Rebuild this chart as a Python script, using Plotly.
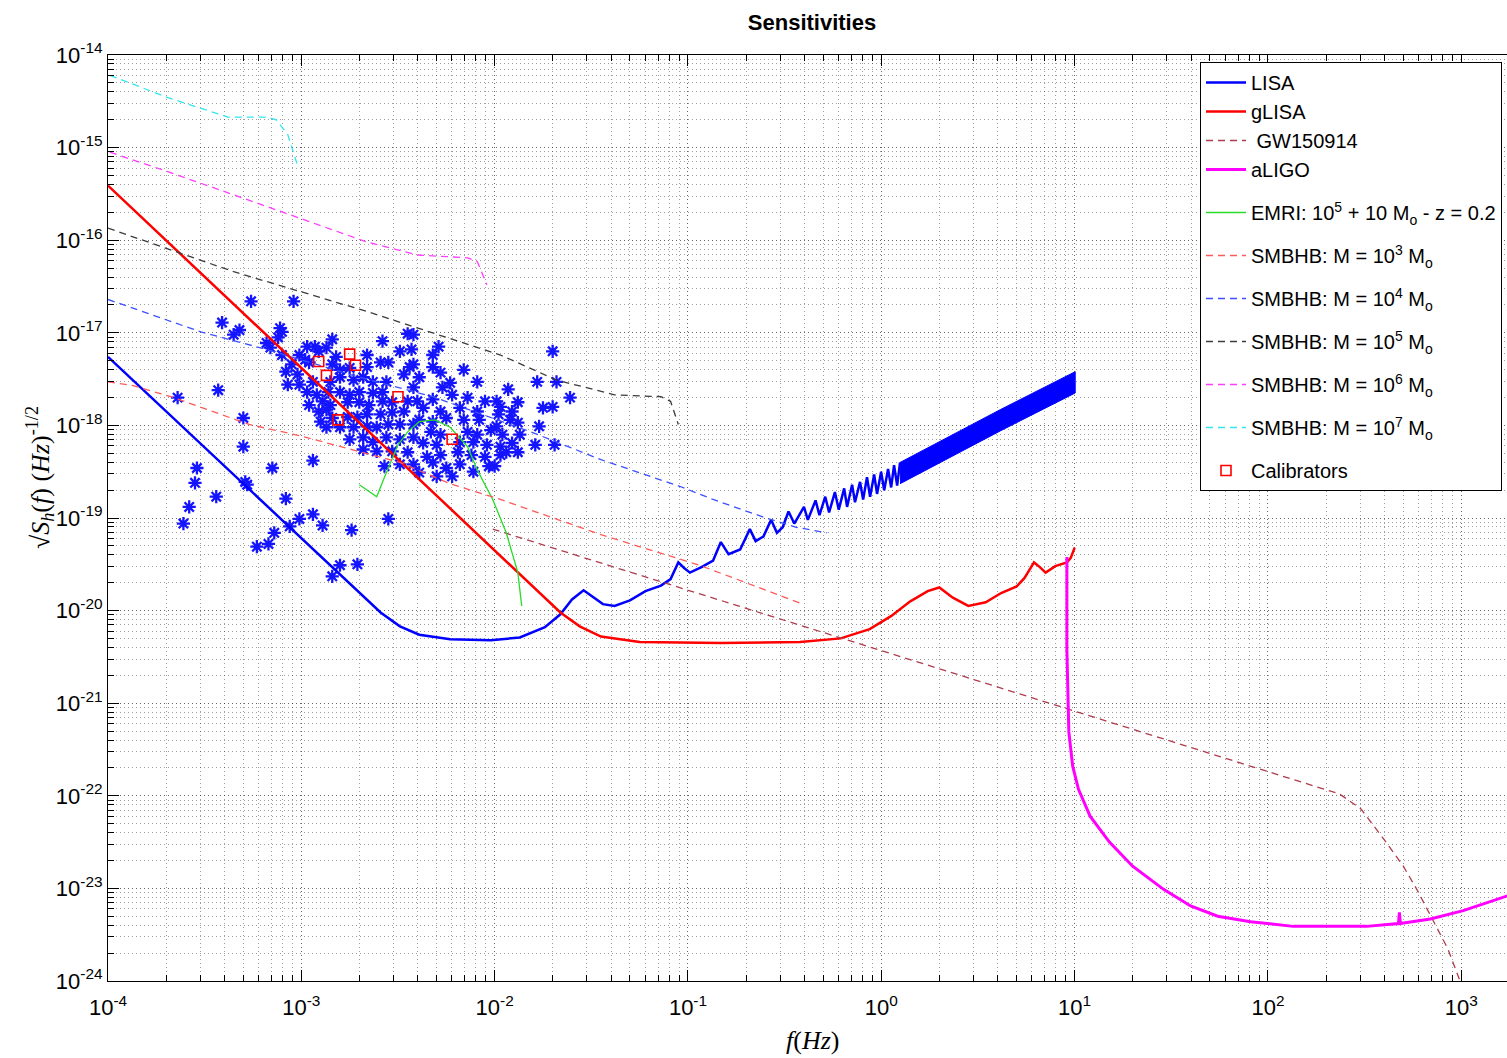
import numpy as np
import plotly.graph_objects as go

# ---------------- data: log10 f [Hz]  and  log10 sqrt(Sh) [Hz^-1/2] ----------------
lisa_lf = [-4.00, -3.27, -2.59, -2.49, -2.39, -2.23, -2.02, -1.87, -1.74, -1.66, -1.60, -1.54,
           -1.50, -1.44, -1.38, -1.30, -1.22, -1.14, -1.09, -1.05, -1.02, -0.99, -0.93, -0.87,
           -0.83, -0.79, -0.73, -0.68, -0.65, -0.61, -0.57, -0.54, -0.51, -0.48, -0.45, -0.40,
           -0.38, -0.34, -0.32, -0.29, -0.27, -0.24, -0.22, -0.192, -0.177, -0.151, -0.136,
           -0.110, -0.094, -0.074, -0.058, -0.037, -0.022, -0.001, 0.015, 0.035, 0.051, 0.066,
           0.082, 0.097]
lisa_lh = [-17.26, -18.69, -20.02, -20.17, -20.26, -20.31, -20.32, -20.29, -20.18, -20.04, -19.88,
           -19.78, -19.84, -19.93, -19.95, -19.89, -19.79, -19.73, -19.66, -19.48, -19.54, -19.59,
           -19.53, -19.46, -19.26, -19.39, -19.34, -19.12, -19.25, -19.20, -19.02, -19.16, -19.10,
           -18.93, -19.06, -18.88, -19.02, -18.81, -18.97, -18.77, -18.94, -18.72, -18.91, -18.68,
           -18.88, -18.64, -18.83, -18.61, -18.80, -18.56, -18.77, -18.53, -18.74, -18.50, -18.70,
           -18.47, -18.67, -18.43, -18.65, -18.40]
# dense oscillating part of LISA (upper / lower envelope)
lisa_band_lf = [0.097, 0.615, 1.003]
lisa_band_up = [-18.40, -17.83, -17.42]
lisa_band_lo = [-18.63, -18.06, -17.65]

glisa_lf = [-4.00, -1.66, -1.56, -1.45, -1.25, -0.83, -0.42, -0.21, -0.06, 0.05, 0.15, 0.24, 0.30,
            0.37, 0.45, 0.54, 0.62, 0.70, 0.74, 0.79, 0.82, 0.85, 0.90, 0.96, 0.98, 1.00]
glisa_lh = [-15.41, -20.02, -20.17, -20.28, -20.34, -20.35, -20.34, -20.30, -20.20, -20.06, -19.90,
            -19.79, -19.75, -19.86, -19.95, -19.91, -19.81, -19.74, -19.65, -19.48, -19.53, -19.59,
            -19.52, -19.48, -19.43, -19.32]

gw_lf = [-2.01, 2.37, 2.48, 2.60, 2.70, 2.77, 2.85, 2.93, 2.99]
gw_lh = [-19.12, -21.98, -22.14, -22.47, -22.76, -23.01, -23.33, -23.65, -23.98]

aligo_lf = [0.96, 0.96, 0.97, 0.99, 1.02, 1.08, 1.18, 1.30, 1.46, 1.60, 1.74, 1.91, 2.13, 2.34,
            2.51, 2.675, 2.68, 2.685, 2.84, 3.01, 3.24]
aligo_lh = [-19.42, -20.42, -21.31, -21.68, -21.93, -22.22, -22.50, -22.76, -23.01, -23.19, -23.30,
            -23.36, -23.41, -23.41, -23.41, -23.38, -23.26, -23.38, -23.33, -23.24, -23.08]

emri_lf = [-2.70, -2.61, -2.57, -2.50, -2.45, -2.39, -2.31, -2.23, -2.14, -2.09, -2.01, -1.94,
           -1.88, -1.86]
emri_lh = [-18.64, -18.77, -18.56, -18.21, -18.07, -17.96, -17.94, -18.02, -18.23, -18.48, -18.80,
           -19.16, -19.59, -19.95]

s3_lf = [-4.00, -3.87, -3.66, -3.27, -3.01, -2.49, -2.23, -1.97, -1.45, -0.94, -0.42]
s3_lh = [-17.53, -17.57, -17.70, -17.99, -18.11, -18.40, -18.63, -18.80, -19.18, -19.51, -19.92]
s4_lf = [-4.00, -3.52, -3.18, -2.70, -2.32, -1.80, -1.45, -1.04, -0.87, -0.61, -0.44, -0.28]
s4_lh = [-16.64, -16.99, -17.18, -17.48, -17.69, -18.08, -18.37, -18.66, -18.80, -18.99, -19.10,
         -19.16]
s5_lf = [-4.00, -3.35, -2.66, -1.97, -1.68, -1.38, -1.14, -1.09, -1.05]
s5_lh = [-15.87, -16.34, -16.77, -17.24, -17.51, -17.67, -17.69, -17.74, -17.99]
s6_lf = [-3.99, -3.69, -3.35, -3.01, -2.66, -2.40, -2.14, -2.09, -2.04]
s6_lh = [-15.05, -15.26, -15.51, -15.76, -16.02, -16.16, -16.19, -16.23, -16.48]
s7_lf = [-3.99, -3.69, -3.38, -3.18, -3.13, -3.07, -3.02]
s7_lh = [-14.22, -14.46, -14.67, -14.67, -14.70, -14.86, -15.19]

cal_lf = [-2.91, -2.87, -2.75, -2.72, -2.50, -2.81, -2.22]
cal_lh = [-17.31, -17.46, -17.23, -17.35, -17.69, -17.94, -18.15]

stars_a_lf = [-3.26, -3.04, -3.41, -3.35, -3.32, -3.11, -3.10, -3.12, -3.18, -2.84,
              -2.58, -2.45, -2.42, -3.16, -2.97, -2.93, -2.91, -3.01, -2.98, -2.87,
              -2.82, -2.66, -2.49, -2.43, -3.10, -3.05, -3.08, -2.96, -2.84, -2.80,
              -2.75, -2.66, -2.59, -2.55, -3.02, -3.07, -3.01, -2.94, -2.85, -2.80,
              -2.73, -2.68, -2.63, -2.56, -2.47, -2.42, -3.43, -2.97, -2.92, -2.86,
              -2.80, -2.75, -2.70, -2.63, -2.58, -2.42, -2.96, -2.89, -2.85, -2.76,
              -2.70, -2.65, -2.58, -2.53, -2.45, -2.40, -2.91, -2.87, -2.90, -2.84,
              -2.76, -2.71, -2.66, -2.59, -2.53, -2.47, -3.30, -2.87, -2.80, -2.73,
              -2.66, -2.61, -2.55, -2.49, -2.42, -2.75, -2.68, -2.63, -2.56, -2.49,
              -2.42, -3.30, -2.68, -2.61, -2.53, -2.45, -2.94, -2.57, -2.49, -3.15, -2.42]
stars_a_lh = [-16.66, -16.66, -16.89, -17.02, -16.97, -16.95, -16.99, -17.05, -17.11, -17.07,
              -17.09, -17.01, -17.02, -17.16, -17.15, -17.15, -17.20, -17.24, -17.29, -17.16,
              -17.26, -17.24, -17.20, -17.18, -17.24, -17.34, -17.42, -17.32, -17.34, -17.40,
              -17.38, -17.37, -17.32, -17.32, -17.45, -17.56, -17.56, -17.53, -17.53, -17.48,
              -17.51, -17.48, -17.53, -17.53, -17.45, -17.34, -17.62, -17.64, -17.67, -17.64,
              -17.64, -17.67, -17.64, -17.65, -17.64, -17.59, -17.78, -17.74, -17.78, -17.75,
              -17.75, -17.78, -17.74, -17.75, -17.74, -17.74, -17.85, -17.83, -17.96, -17.92,
              -17.91, -17.91, -17.88, -17.88, -17.86, -17.85, -17.92, -18.02, -18.02, -18.02,
              -18.01, -18.02, -17.99, -17.99, -17.99, -18.15, -18.13, -18.18, -18.13, -18.15,
              -18.13, -18.23, -18.26, -18.28, -18.28, -18.29, -18.38, -18.44, -18.42, -18.46, -18.42]
stars_b_lf = [-2.29, -2.32, -1.70, -2.32, -2.28, -2.16, -2.39, -2.23, -2.09, -2.27,
              -1.93, -1.78, -1.68, -1.61, -2.32, -2.22, -2.14, -2.05, -1.99, -1.88,
              -1.75, -1.70, -2.37, -2.28, -2.18, -2.09, -1.97, -1.98, -1.91, -2.39,
              -2.32, -2.25, -2.16, -2.08, -1.99, -1.92, -1.88, -1.77, -2.33, -2.28,
              -2.14, -2.09, -2.02, -1.96, -1.87, -1.79, -1.69, -2.37, -2.30, -2.18,
              -2.11, -2.04, -1.97, -1.91, -1.88, -2.35, -2.28, -2.19, -2.12, -2.05,
              -1.97, -1.94, -2.32, -2.25, -2.18, -2.11, -2.03, -2.00, -2.39, -2.30,
              -2.22, -2.44]
stars_b_lh = [-17.15, -17.24, -17.20, -17.37, -17.43, -17.40, -17.48, -17.54, -17.53, -17.59,
              -17.61, -17.53, -17.53, -17.70, -17.72, -17.67, -17.70, -17.74, -17.74, -17.75,
              -17.81, -17.80, -17.81, -17.85, -17.81, -17.85, -17.80, -17.88, -17.85, -17.94,
              -17.96, -17.92, -17.94, -17.94, -18.01, -17.94, -17.97, -18.01, -18.07, -18.10,
              -18.07, -18.10, -18.05, -18.10, -18.10, -18.21, -18.21, -18.19, -18.21, -18.18,
              -18.18, -18.21, -18.23, -18.19, -18.29, -18.34, -18.32, -18.29, -18.32, -18.34,
              -18.32, -18.29, -18.40, -18.46, -18.42, -18.50, -18.44, -18.44, -18.51, -18.55,
              -18.55, -17.37]
stars_c_lf = [-3.64, -3.54, -3.55, -3.29, -3.28, -3.44, -3.08, -3.58, -3.61, -2.94,
              -3.01, -2.89, -2.74, -2.55, -3.06, -3.14, -3.17, -3.23, -2.80, -2.71, -2.84]
stars_c_lh = [-17.70, -18.46, -18.62, -18.61, -18.64, -18.77, -18.79, -18.88, -19.06, -18.96,
              -19.01, -19.08, -19.13, -19.01, -19.09, -19.16, -19.28, -19.31, -19.51, -19.50, -19.63]

x_decades = [-4, -3, -2, -1, 0, 1, 2, 3]
y_decades = [-24, -23, -22, -21, -20, -19, -18, -17, -16, -15, -14]

legend_names = ["LISA", "gLISA", " GW150914", "aLIGO",
                "EMRI: 10<sup>5</sup> + 10 M<sub>o</sub> - z = 0.2",
                "SMBHB: M = 10<sup>3</sup> M<sub>o</sub>",
                "SMBHB: M = 10<sup>4</sup> M<sub>o</sub>",
                "SMBHB: M = 10<sup>5</sup> M<sub>o</sub>",
                "SMBHB: M = 10<sup>6</sup> M<sub>o</sub>",
                "SMBHB: M = 10<sup>7</sup> M<sub>o</sub>",
                "Calibrators"]


def p(a):
    return np.power(10.0, np.asarray(a, dtype=float))


DASH = "7px,5px"
fig = go.Figure()

# source population (stars)
fig.add_trace(go.Scatter(
    x=p(stars_a_lf + stars_b_lf + stars_c_lf), y=p(stars_a_lh + stars_b_lh + stars_c_lh),
    mode="markers", showlegend=False, hoverinfo="skip",
    marker=dict(symbol="asterisk-open", size=11, color="rgb(20,20,255)",
                line=dict(width=2.3, color="rgb(20,20,255)"))))

# LISA dense band
band_x = p(lisa_band_lf + lisa_band_lf[::-1])
band_y = p(lisa_band_up + lisa_band_lo[::-1])
fig.add_trace(go.Scatter(x=band_x, y=band_y, mode="lines", fill="toself",
                         fillcolor="rgb(0,0,255)", line=dict(color="rgb(0,0,255)", width=1),
                         legendgroup="g0", showlegend=False, hoverinfo="skip"))

fig.add_trace(go.Scatter(x=p(lisa_lf), y=p(lisa_lh), mode="lines", name=legend_names[0],
                         legendgroup="g0", line=dict(color="rgb(0,0,255)", width=2.5)))
fig.add_trace(go.Scatter(x=p(glisa_lf), y=p(glisa_lh), mode="lines", name=legend_names[1],
                         legendgroup="g0", line=dict(color="rgb(255,0,0)", width=2.5)))
fig.add_trace(go.Scatter(x=p(gw_lf), y=p(gw_lh), mode="lines", name=legend_names[2],
                         legendgroup="g0", line=dict(color="rgb(175,60,75)", width=1.3, dash=DASH)))
fig.add_trace(go.Scatter(x=p(aligo_lf), y=p(aligo_lh), mode="lines", name=legend_names[3],
                         legendgroup="g0", line=dict(color="rgb(255,0,255)", width=3)))
fig.add_trace(go.Scatter(x=p(emri_lf), y=p(emri_lh), mode="lines", name=legend_names[4],
                         legendgroup="g1", line=dict(color="rgb(40,220,40)", width=1.3)))
smbhb = [(s3_lf, s3_lh, "rgb(255,90,90)"), (s4_lf, s4_lh, "rgb(60,80,255)"),
         (s5_lf, s5_lh, "rgb(60,60,60)"), (s6_lf, s6_lh, "rgb(255,60,255)"),
         (s7_lf, s7_lh, "rgb(50,230,240)")]
for i, (lf, lh, c) in enumerate(smbhb):
    fig.add_trace(go.Scatter(x=p(lf), y=p(lh), mode="lines", name=legend_names[5 + i],
                             legendgroup="s%d" % i, line=dict(color=c, width=1.3, dash=DASH)))
fig.add_trace(go.Scatter(x=p(cal_lf), y=p(cal_lh), mode="markers", name=legend_names[10],
                         legendgroup="cal",
                         marker=dict(symbol="square-open", size=10, color="rgb(255,0,0)",
                                     line=dict(width=1.6, color="rgb(255,0,0)"))))

L, T, B = 108, 55, 77
W, H = 1507, 1058
grid_major = "rgba(0,0,0,0.6)"
grid_minor = "rgba(0,0,0,0.38)"
tickfont = dict(family="Liberation Sans, Arial, sans-serif", size=22, color="black")


def axis_cfg(decs):
    vals = [10.0 ** d for d in decs]
    text = ["10<sup>%d</sup>" % d for d in decs]
    minor_vals = [m * 10.0 ** d for d in decs for m in range(2, 10)]
    return dict(type="log", tickmode="array", tickvals=vals, ticktext=text, showgrid=True,
                gridcolor=grid_major, griddash="1px,3px", gridwidth=1,
                ticks="inside", ticklen=11, tickcolor="black", tickwidth=1,
                showline=True, linecolor="black", linewidth=1, zeroline=False,
                tickfont=tickfont,
                minor=dict(tickmode="array", tickvals=minor_vals, ticks="inside", ticklen=6,
                           tickcolor="black", showgrid=True, gridcolor=grid_minor,
                           griddash="1px,3px", gridwidth=1))


fig.update_xaxes(range=[-4, 3.2365], mirror="ticks", ticklabelstandoff=7, **axis_cfg(x_decades))
fig.update_yaxes(range=[-24, -14], mirror=False, **axis_cfg(y_decades))

fig.update_layout(
    width=W, height=H, autosize=False,
    margin=dict(l=L, r=0, t=T, b=B, pad=0),
    paper_bgcolor="white", plot_bgcolor="white",
    title=dict(text="<b>Sensitivities</b>", xref="container", yref="container",
               x=812 / W, y=1 - 22 / H, xanchor="center", yanchor="middle",
               font=dict(family="Liberation Sans, Arial, sans-serif", size=22, color="black")),
    legend=dict(x=(1200 - L) / (W - L), y=1 - (62 - T) / (H - T - B), xanchor="left", yanchor="top",
                bgcolor="white", bordercolor="black", borderwidth=1, itemwidth=40,
                traceorder="grouped", tracegroupgap=14,
                font=dict(family="Liberation Sans, Arial, sans-serif", size=20, color="black")),
    annotations=[
        dict(text="<i>f</i>(<i>Hz</i>)", xref="paper", yref="paper", x=(812 - L) / (W - L),
             y=-(1040 - (H - B)) / (H - T - B), showarrow=False, xanchor="center", yanchor="middle",
             font=dict(family="Liberation Serif, Times New Roman, serif", size=26, color="black")),
        dict(text="√<i>S<sub>h</sub></i>(<i>f</i>) (<i>Hz</i>)<sup>-1/2</sup>", xref="paper",
             yref="paper", x=-(L - 40) / (W - L), y=(981 - 478) / (H - T - B), showarrow=False,
             textangle=-90, xanchor="center", yanchor="middle",
             font=dict(family="Liberation Serif, Times New Roman, serif", size=26, color="black")),
    ],
)

fig.write_html("out.html")
